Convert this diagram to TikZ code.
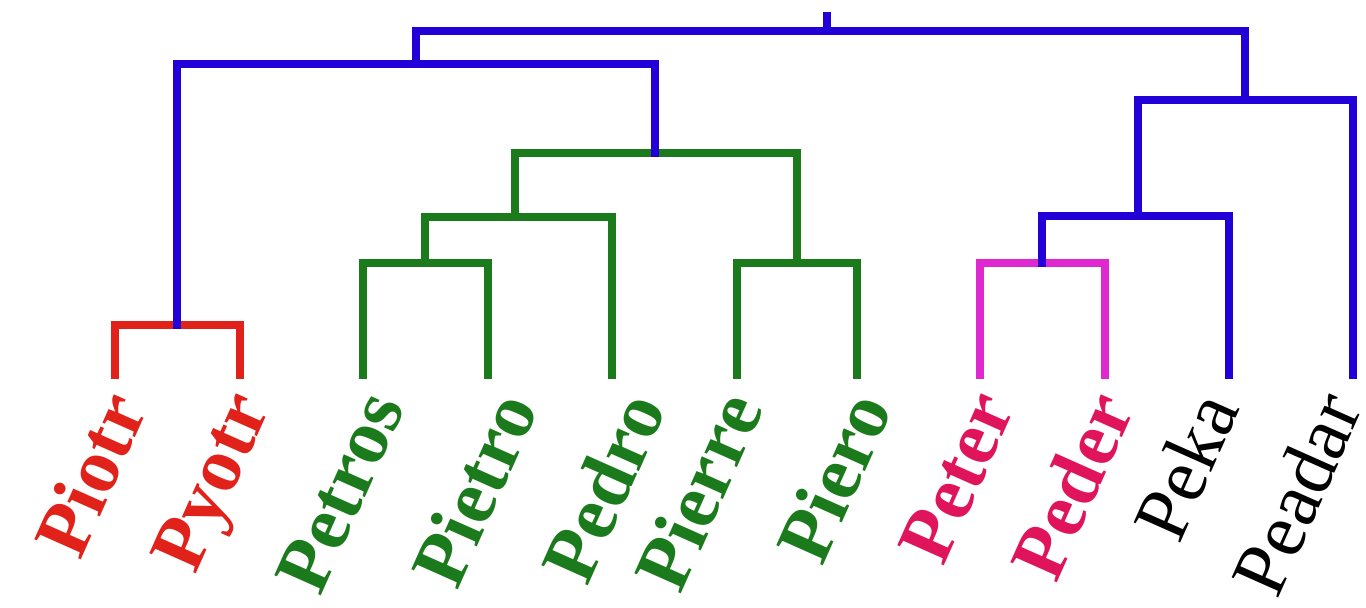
\documentclass[tikz,border=0pt]{standalone}
\usepackage{fontspec}
\setmainfont{Liberation Serif}
\definecolor{cblue}{HTML}{2200D8}
\definecolor{cred}{HTML}{E0221A}
\definecolor{cgreen}{HTML}{1B7A1B}
\definecolor{cmag}{HTML}{E028D0}
\definecolor{ccrim}{HTML}{E0145A}
\tikzset{
  branch/.style={line width=4.5pt, line join=miter, line cap=rect},
  leaflab/.style={rotate=66, anchor=north east, inner sep=0pt, font=\fontsize{44}{44}\selectfont},
  boldlab/.style={leaflab, font=\fontsize{44}{44}\selectfont\bfseries},
}
\begin{document}
\begin{tikzpicture}[x=0.02cm,y=-0.02cm]
\useasboundingbox (0,0) rectangle (1366,608);
% leaves
\coordinate (L1) at (115,375);
\coordinate (L2) at (240,375);
\coordinate (L3) at (363,375);
\coordinate (L4) at (488,375);
\coordinate (L5) at (612,375);
\coordinate (L6) at (737,375);
\coordinate (L7) at (857,375);
\coordinate (L8) at (980,375);
\coordinate (L9) at (1105,375);
\coordinate (L10) at (1229,375);
\coordinate (L11) at (1353,375);
% merges
\coordinate (m1) at (177,325);
\coordinate (m2) at (425,263);
\coordinate (m3) at (515,217);
\coordinate (m4) at (797,263);
\coordinate (m5) at (655,153);
\coordinate (m6) at (416,64);
\coordinate (m7) at (1042,263);
\coordinate (m8) at (1138,216);
\coordinate (m9) at (1245,100);
\coordinate (m10) at (827,31);
\coordinate (top) at (827,12);
% brackets
\draw[branch, cred] (L1) |- (m1) -| (L2);
\draw[branch, cgreen] (L3) |- (m2) -| (L4);
\draw[branch, cgreen] (m2) |- (m3) -| (L5);
\draw[branch, cgreen] (L6) |- (m4) -| (L7);
\draw[branch, cgreen] (m3) |- (m5) -| (m4);
\draw[branch, cmag] (L8) |- (m7) -| (L9);
\draw[branch, cblue] (m1) |- (m6) -| (m5);
\draw[branch, cblue] (m7) |- (m8) -| (L10);
\draw[branch, cblue] (m8) |- (m9) -| (L11);
\draw[branch, cblue] (m6) |- (m10) -| (m9);
\draw[branch, cblue, line cap=butt] (m10) -- (top);
% labels
\node[boldlab, text=cred] (t1) at ([shift={(-16,11)}]L1) {Piotr};
\node[boldlab, text=cred] (t2) at ([shift={(-16,11)}]L2) {Pyotr};
\node[boldlab, text=cgreen] (t3) at ([shift={(-4,11)}]L3) {Petros};
\node[boldlab, text=cgreen] (t4) at ([shift={(2,11)}]L4) {Pietro};
\node[boldlab, text=cgreen] (t5) at ([shift={(6,11)}]L5) {Pedro};
\node[boldlab, text=cgreen] (t6) at ([shift={(-22,11)}]L6) {Pierre};
\node[boldlab, text=cgreen] (t7) at ([shift={(-13,11)}]L7) {Piero};
\node[boldlab, text=ccrim] (t8) at ([shift={(-11,11)}]L8) {Peter};
\node[boldlab, text=ccrim] (t9) at ([shift={(-19,11)}]L9) {Peder};
\node[leaflab, text=black] (t10) at ([shift={(-38,11)}]L10) {Peka};
\node[leaflab, text=black] (t11) at ([shift={(-39,11)}]L11) {Peadar};
\end{tikzpicture}
\end{document}
